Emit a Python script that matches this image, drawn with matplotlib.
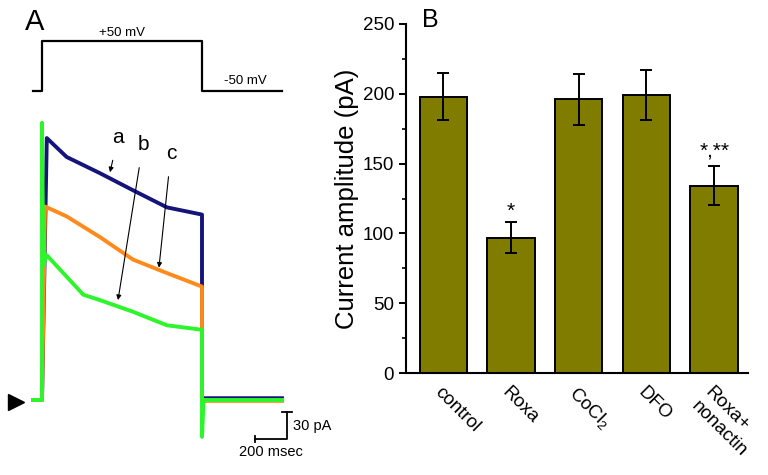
import matplotlib
matplotlib.use('Agg')
import matplotlib.pyplot as plt

plt.rcParams['font.family'] = ['Liberation Sans', 'DejaVu Sans']
plt.rcParams['mathtext.fontset'] = 'custom'
plt.rcParams['mathtext.rm'] = 'Liberation Sans'

# panel A: voltage protocol (ms, mV)
volt_t = [-56, 0, 0, 1000, 1000, 1500]
volt_mv = [-50, -50, 50, 50, -50, -50]

# panel A: current traces (ms, pA)
blue_t = [-56, 0, 0, 30, 154, 362, 569, 781, 1000, 1000, 1500]
blue_i = [0, 0, 0, 291, 270, 252, 233, 214, 206, 2, 2]
orange_t = [-56, 0, 0, 19, 154, 362, 569, 781, 1000, 1000, 1500]
orange_i = [0, 0, 0, 215, 204, 181, 156, 141, 126, -1, -1]
green_t = [-56, 0, 0, 8, 29, 154, 258, 362, 569, 781, 1000, 1000, 1010, 1500]
green_i = [0, 0, 308, 150, 161, 137, 117, 111, 98, 83, 78, -41, 0, 0]

# panel B: bar chart
groups = ['control', 'Roxa', r'CoCl$_2$', 'DFO', 'Roxa+\nnonactin']
amp = [198, 97, 196, 199, 134]
amp_err = [17, 11, 18, 18, 14]
marks = ['', '*', '', '', '*,**']

fig = plt.figure(figsize=(7.68, 4.75), dpi=100)
W, H = 768, 475

def px_axes(x0, y0, x1, y1):
    return fig.add_axes([x0 / W, 1 - y1 / H, (x1 - x0) / W, (y1 - y0) / H])

# x: t = (px - 42) * 6.25
tlim = ((0 - 42) * 6.25, (320 - 42) * 6.25)

ax_v = px_axes(0, 0, 320, 100)
ax_v.plot(volt_t, volt_mv, color='black', lw=1.6)
ax_v.set_xlim(tlim)
ax_v.set_ylim(50 - (100 - 41) * 100 / 49.7, 50 + 41 * 100 / 49.7)
ax_v.text(500, 55, '+50 mV', fontsize=9.5, ha='center', va='bottom')
ax_v.text(1270, -43, '-50 mV', fontsize=9.5, ha='center', va='bottom')
ax_v.axis('off')

ax_i = px_axes(0, 100, 320, 470)
ax_i.plot(blue_t, blue_i, color='#14147a', lw=2.8)
ax_i.plot(orange_t, orange_i, color='#ff8a1c', lw=2.8)
ax_i.plot(green_t, green_i, color='#2cf52c', lw=2.8)
ax_i.set_xlim(tlim)
ax_i.set_ylim((400 - 470) * 1.111, (400 - 100) * 1.111)

arrow_kw = dict(arrowstyle='-|>', color='black', lw=0.8, shrinkA=8, shrinkB=0, mutation_scale=7)
ax_i.annotate('a', xy=(425, 253), xytext=(475, 292), fontsize=15, ha='center', va='center',
              arrowprops=arrow_kw)
ax_i.annotate('b', xy=(475, 111), xytext=(631, 284), fontsize=15, ha='center', va='center',
              arrowprops=arrow_kw)
ax_i.annotate('c', xy=(731, 147), xytext=(806, 274), fontsize=15, ha='center', va='center',
              arrowprops=arrow_kw)

ax_i.plot([-162], [-2], marker='>', color='black', markersize=12)

# scale bars
ax_i.plot([1331, 1531, 1531], [-43.3, -43.3, -13.3], color='black', lw=1.3)
ax_i.plot([1331, 1331], [-47, -39.5], color='black', lw=1.3)
ax_i.plot([1500, 1562], [-13.3, -13.3], color='black', lw=1.3)
ax_i.text(1570, -29, '30 pA', fontsize=10.5, ha='left', va='center')
ax_i.text(1431, -50, '200 msec', fontsize=10.5, ha='center', va='top')
ax_i.axis('off')

fig.text(25 / W, 1 - 22 / H, 'A', fontsize=21, ha='left', va='center')

# panel B
ax = px_axes(406, 24, 748, 373)
pos = list(range(len(groups)))
ax.bar(pos, amp, width=0.7, color='#7f7c00', edgecolor='black', linewidth=1.4,
       yerr=amp_err, capsize=4.5, error_kw=dict(elinewidth=1.4, capthick=1.4))
ax.text(pos[1], 112, marks[1], fontsize=15, ha='center', va='baseline')
ax.text(pos[4], 155, marks[4], fontsize=15, ha='center', va='baseline')

ax.set_xlim(-0.55, 4.5)
ax.set_ylim(0, 250)
ax.set_yticks([0, 50, 100, 150, 200, 250])
ax.set_yticks([25, 75, 125, 175, 225], minor=True)
ax.tick_params(axis='y', which='major', length=5, width=1.4, labelsize=13.5)
ax.tick_params(axis='y', which='minor', length=3, width=1.2)
ax.set_xticks(pos)
ax.set_xticklabels(groups, rotation=-45, ha='left', va='top', rotation_mode='anchor',
                   fontsize=13.5)
ax.tick_params(axis='x', length=0, pad=8)
for s in ['top', 'right']:
    ax.spines[s].set_visible(False)
ax.spines['left'].set_linewidth(1.5)
ax.spines['bottom'].set_linewidth(1.5)
ax.set_ylabel('Current amplitude (pA)', fontsize=18.5, labelpad=3)

fig.text(430 / W, 1 - 20 / H, 'B', fontsize=18, ha='center', va='center')

fig.savefig('out.png', dpi=100)
